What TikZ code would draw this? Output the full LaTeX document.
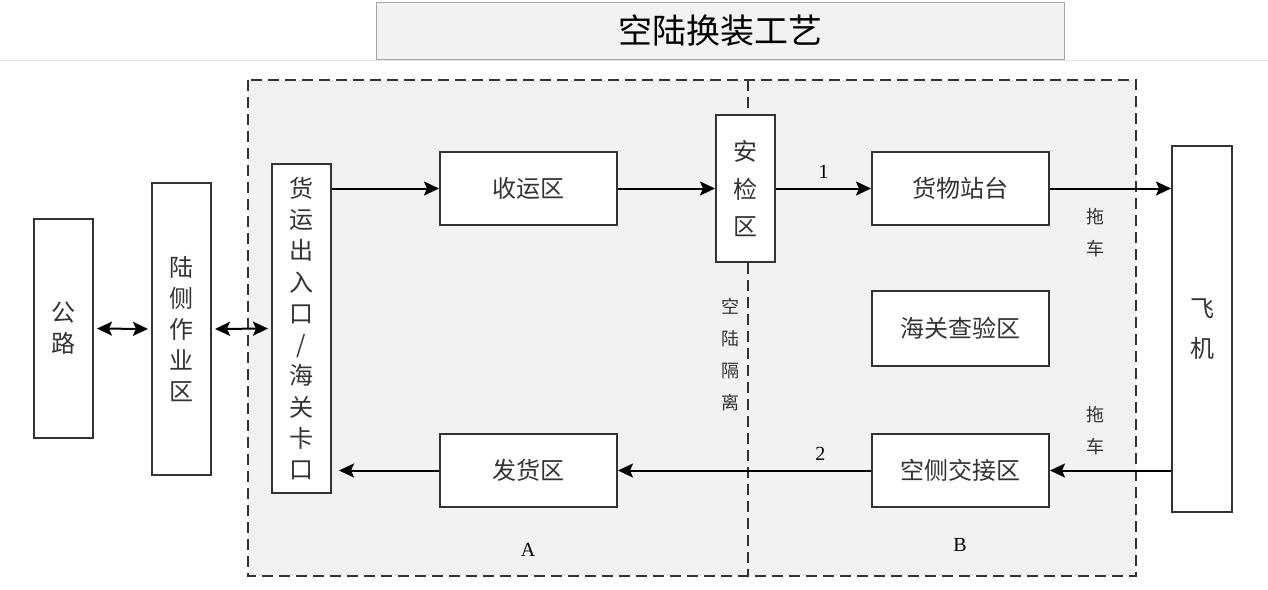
\documentclass[tikz,border=0pt]{standalone}
\usepackage{fontspec}
\setmainfont{Liberation Serif}
\newfontfamily\cjk{Noto Sans CJK SC}
\usetikzlibrary{arrows.meta,calc}

\definecolor{panel}{HTML}{F2F2F2}
\definecolor{ink}{HTML}{333333}

\tikzset{
  box/.style={draw=ink,fill=white,line width=2pt,inner sep=0pt,align=center,
    text=ink,font=\cjk\fontsize{24}{31}\selectfont},
  flow/.style={line width=2pt,->},
  twoway/.style={line width=2pt,<->,shorten <=3pt,shorten >=3pt},
  note/.style={text=ink,align=center,font=\cjk\fontsize{18}{32}\selectfont},
  tag/.style={text=black,font=\fontsize{20}{20}\selectfont},
  zone/.style={draw=ink,line width=1.8pt,dash pattern=on 11pt off 6pt}
}

\begin{document}
\begin{tikzpicture}[x=1pt,y=-1pt,>={Stealth[length=15pt,width=14pt,inset=3pt]}]
	% format da pagina
	\useasboundingbox (0,0) rectangle (1268,589);
	% titulo
	\draw[gray!70,fill=panel] (376,2) rectangle (1064,59);
	\node (title) at (720,31) {\cjk\fontsize{34}{34}\selectfont 空陆换装工艺};
	\draw[gray!20] (0,60) -- (1268,60);
	% zonas A e B
	\fill[panel] (248,80) rectangle (1136,576);
	\draw[zone] (248,80) rectangle (1136,576);
	% caixas
	\node[box,minimum width=59pt,minimum height=219pt] (road) at (63.5,328.5) {公\\路};
	\node[box,minimum width=59pt,minimum height=292pt] (landside) at (181.5,329) {陆\\侧\\作\\业\\区};
	\node[box,minimum width=59pt,minimum height=329pt,font=\cjk\fontsize{24}{31.3}\selectfont] (gate) at (301.5,328.5)
		{货\\运\\出\\入\\口\\/\\海\\关\\卡\\口};
	\node[box,minimum width=177pt,minimum height=73pt] (intake) at (528.5,188.5) {收运区};
	\node[box,minimum width=177pt,minimum height=73pt] (dispatch) at (528.5,470.5) {发货区};
	\node[box,minimum width=59pt,minimum height=147pt,font=\cjk\fontsize{24}{37.5}\selectfont] (check) at (745.5,188.5) {安\\检\\区};
	\node[box,minimum width=177pt,minimum height=73pt] (station) at (960.5,188.5) {货物站台};
	\node[box,minimum width=177pt,minimum height=75pt] (customs) at (960.5,328.5) {海关查验区};
	\node[box,minimum width=177pt,minimum height=73pt] (handover) at (960.5,470.5) {空侧交接区};
	\node[box,minimum width=60pt,minimum height=366pt,font=\cjk\fontsize{24}{40}\selectfont] (plane) at (1202,329) {飞\\机};
	% linha de separacao
	\coordinate (sepTop) at (748,80);
	\coordinate (sepBot) at (748,576);
	\draw[zone] (sepTop) -- (check.north -| sepTop);
	\draw[zone] (check.south -| sepTop) -- (sepBot);
	% setas
	\draw[twoway] (road.east) -- (landside.west);
	\draw[twoway] (landside.west -| landside.east) -- (gate.west);
	\draw[flow] (gate.east |- intake.west) -- (intake.west);
	\draw[flow] (intake.east) -- (check.west);
	\draw[flow] (check.east) -- node[tag,above=6pt,pos=0.5] (one) {1} (station.west);
	\draw[flow] (station.east) -- (plane.west |- station.east);
	\draw[flow] (plane.west |- handover.east) -- (handover.east);
	\draw[flow] (handover.west) -- node[tag,above=6pt,pos=0.2] (two) {2} (dispatch.east);
	\draw[flow,shorten >=7pt] (dispatch.west) -- (gate.east |- dispatch.west);
	% rotulos
	\node[note] (towUp) at (1095,233) {拖\\车};
	\node[note] (towDown) at (1095,431) {拖\\车};
	\node[note] (isolate) at (730,355) {空\\陆\\隔\\离};
	\node[tag] (zoneA) at (528,550) {A};
	\node[tag] (zoneB) at (960,545) {B};
\end{tikzpicture}
\end{document}
